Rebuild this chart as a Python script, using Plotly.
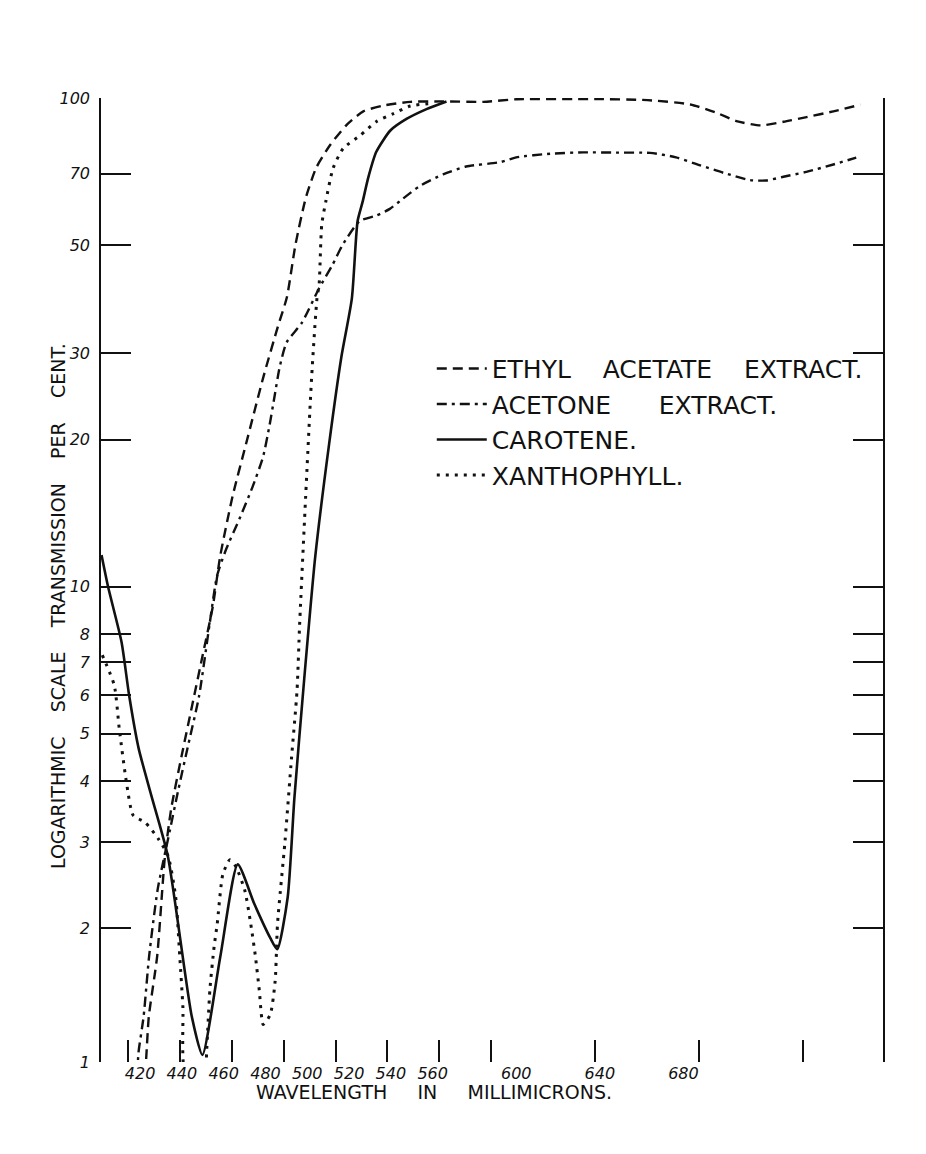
import plotly.graph_objects as go
import math

# ---- data (wavelength in millimicrons, transmission per cent) ----
ethyl_nm = [426.8, 427.3, 428.2, 431.4, 434.4, 436.8, 440.8, 444.8, 448.8, 452.8, 455.6, 460.4,
            465.6, 472.3, 477.8, 481.3, 484.6, 488.6, 492.6, 498.0, 504.3, 510.7, 518.4, 528.8,
            541.5, 556.9, 569.6, 600.0, 620.0, 636.5, 646.5, 654.2, 663.5, 672.3, 681.2, 691.5, 701.9]
ethyl_t = [1.0, 1.11, 1.32, 1.75, 2.81, 3.51, 4.50, 5.69, 7.19, 9.1, 11.5, 15.3,
           19.6, 26.9, 34.0, 39.1, 50.1, 62.5, 72.0, 80.2, 88.1, 93.9, 96.5, 98.2,
           98.4, 98.2, 99.4, 99.5, 99.0, 97.0, 93.3, 89.7, 87.9, 89.4, 91.4, 93.9, 96.9]

acetone_nm = [423.8, 424.2, 426.2, 428.3, 431.6, 436.4, 439.6, 443.5, 447.5, 451.6, 454.4, 457.6,
              463.4, 468.1, 472.1, 474.5, 476.5, 478.5, 481.2, 487.1, 493.7, 498.8, 502.7, 509.3,
              515.5, 520.9, 525.9, 532.5, 541.4, 550.2, 563.3, 569.5, 582.6, 595.3, 608.0, 621.0,
              631.0, 640.3, 649.2, 659.5, 665.7, 672.3, 681.1, 691.5, 700.3]
acetone_t = [1.0, 1.11, 1.32, 1.75, 2.40, 3.19, 3.85, 4.78, 5.96, 8.4, 10.5, 11.8,
             13.9, 16.0, 18.4, 21.2, 24.4, 28.1, 31.6, 34.7, 40.8, 45.5, 50.0, 56.0,
             57.4, 59.3, 62.2, 66.1, 69.8, 72.4, 73.9, 75.6, 76.9, 77.4, 77.3, 77.2,
             75.6, 72.8, 70.3, 67.9, 67.8, 69.0, 70.6, 73.1, 75.5]

carotene_nm = [410.0, 412.5, 417.7, 420.6, 424.3, 429.2, 435.5, 444.7, 448.8, 455.7, 462.4, 468.8,
               474.9, 477.6, 481.6, 484.2, 488.0, 492.2, 497.5, 502.3, 506.3, 508.5, 510.5, 512.5,
               515.7, 521.1, 527.3, 535.0, 542.7]
carotene_t = [11.6, 10.0, 7.7, 6.0, 4.66, 3.73, 2.81, 1.32, 1.10, 1.75, 2.70, 2.24,
              1.91, 1.81, 2.31, 3.70, 6.5, 11.5, 19.5, 29.6, 38.9, 56.0, 61.5, 68.4,
              77.6, 85.8, 90.6, 94.9, 98.4]

xantho_nm = [410.3, 414.9, 416.8, 419.6, 422.2, 426.8, 431.8, 435.6, 438.5, 440.1, 441.3, 442.4,
             449.8, 450.4, 451.7, 453.3, 454.5, 456.7, 459.4, 461.7, 465.1, 467.4, 469.2, 470.7,
             472.2, 474.9, 476.8, 477.7, 480.6, 483.1, 485.2, 486.2, 488.5, 490.8, 492.9, 493.7,
             494.7, 496.3, 499.1, 503.0, 509.6, 515.8, 522.3, 528.8, 537.7]
xantho_t = [7.24, 6.28, 5.13, 3.97, 3.40, 3.29, 3.05, 2.81, 2.32, 1.75, 1.38, 1.0,
            1.0, 1.11, 1.50, 1.83, 2.04, 2.58, 2.76, 2.67, 2.39, 2.04, 1.75, 1.49,
            1.27, 1.33, 1.56, 2.04, 3.02, 4.47, 6.12, 8.36, 15.2, 26.7, 39.0, 41.5,
            55.0, 61.5, 71.9, 78.9, 83.9, 89.5, 92.9, 96.3, 97.6]

x_ticks = [420, 440, 460, 480, 500, 520, 540, 560, 600, 640, 680]
x_ticktext = ["420", "440", "460", "480", "500", "520", "540", "560", "600", "640", "680"]
y_ticks = [1.064, 2, 3, 4, 5, 6, 7, 8, 10, 20, 30, 50, 70, 100]
y_ticktext = ["1", "2", "3", "4", "5", "6", "7", "8", "10", "20", "30", "50", "70", "100"]

names = ["ETHYL    ACETATE    EXTRACT.", "ACETONE      EXTRACT.", "CAROTENE.", "XANTHOPHYLL."]

FONT = "DejaVu Sans"
INK = "#111111"

fig = go.Figure()
series = [
    (ethyl_nm, ethyl_t, names[0], "10px,6px", 2.4),
    (acetone_nm, acetone_t, names[1], "10px,5px,3px,5px", 2.4),
    (carotene_nm, carotene_t, names[2], "solid", 2.6),
    (xantho_nm, xantho_t, names[3], "3px,6px", 3.0),
]
for i, (xs, ys, nm, dash, w) in enumerate(series):
    fig.add_trace(go.Scatter(
        x=xs, y=ys, name=nm, mode="lines",
        line=dict(color=INK, width=w, dash=dash, shape="spline", smoothing=0.6),
        legendgroup=f"g{i}",
    ))

# empty carrier so that the label axis (x3) is registered and drawn
fig.add_trace(go.Scatter(x=[], y=[], xaxis="x3", yaxis="y", showlegend=False,
                         hoverinfo="skip", mode="lines"))

x_range = [409.8, 710.6]
label_range = [401.3, 775.5]

fig.update_layout(
    width=926, height=1154, autosize=False,
    margin=dict(l=101, r=43, t=98, b=92),
    paper_bgcolor="white", plot_bgcolor="white",
    font=dict(family=FONT, color=INK),
    showlegend=True,
    legend=dict(
        x=0.423, y=0.743, xanchor="left", yanchor="top",
        font=dict(family=FONT, size=25, color=INK),
        bgcolor="rgba(0,0,0,0)", itemwidth=50, tracegroupgap=0,
    ),
    xaxis=dict(
        range=x_range, tickmode="array", tickvals=x_ticks,
        ticks="inside", ticklen=22, tickwidth=1.6, tickcolor=INK,
        showticklabels=False, showline=False, showgrid=False, zeroline=False,
    ),
    xaxis2=dict(
        overlaying="x", side="top", anchor="y",
        range=x_range, tickmode="array", tickvals=x_ticks,
        ticks="inside", ticklen=26, tickwidth=1.6, tickcolor=INK,
        showticklabels=False, showline=True, linecolor=INK, linewidth=1.6,
        showgrid=False, zeroline=False,
    ),
    xaxis3=dict(
        overlaying="x", side="bottom", anchor="y",
        range=label_range, tickmode="array", tickvals=x_ticks, ticktext=x_ticktext,
        ticks="", showline=False, showgrid=False, zeroline=False,
        tickfont=dict(family=FONT, size=16, color=INK, style="italic"),
    ),
    yaxis=dict(
        type="log", range=[math.log10(1.064), 2.0],
        tickmode="array", tickvals=y_ticks, ticktext=y_ticktext,
        ticks="inside", ticklen=30, tickwidth=1.8, tickcolor=INK,
        showline=True, linecolor=INK, linewidth=1.6, mirror="ticks",
        showgrid=False, zeroline=False, ticklabelstandoff=6,
        tickfont=dict(family=FONT, size=16, color=INK, style="italic"),
    ),
    annotations=[
        dict(text="WAVELENGTH     IN     MILLIMICRONS.", xref="paper", yref="paper",
             x=0.426, y=-0.031, xanchor="center", yanchor="middle", showarrow=False,
             font=dict(family=FONT, size=19, color=INK)),
        dict(text="LOGARITHMIC    SCALE    TRANSMISSION    PER    CENT.", xref="paper", yref="paper",
             x=-0.055, y=0.473, xanchor="center", yanchor="middle", showarrow=False,
             textangle=-90, font=dict(family=FONT, size=19, color=INK)),
    ],
)

fig.write_html("out.html")
